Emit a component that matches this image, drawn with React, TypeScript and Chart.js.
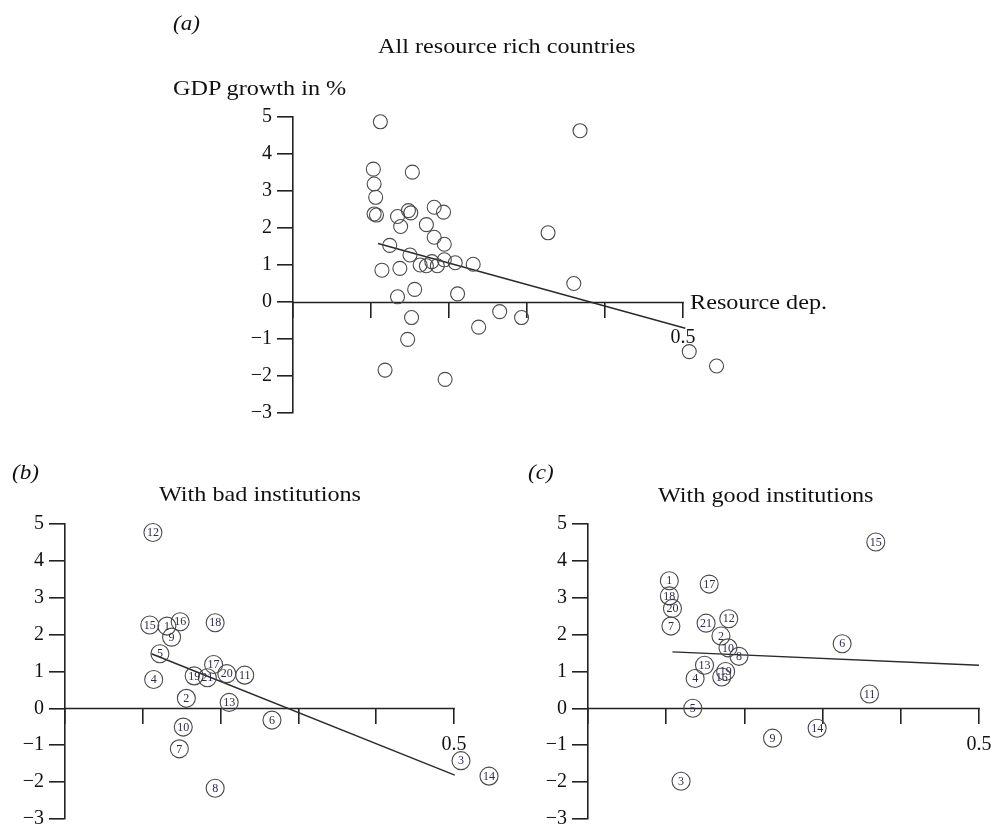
import React, { useEffect, useRef } from "react";
import { Chart, registerables } from "chart.js";

Chart.register(...registerables);

// ---------- DATA ----------
// Panel (a): all resource rich countries
const aX = [0.112, 0.368, 0.103, 0.153, 0.104, 0.106, 0.104, 0.107, 0.134, 0.148, 0.151, 0.181, 0.193, 0.138, 0.171, 0.181, 0.194, 0.124, 0.150, 0.163, 0.171, 0.178, 0.185, 0.194, 0.208, 0.231, 0.114, 0.137, 0.327, 0.360, 0.134, 0.156, 0.211, 0.152, 0.265, 0.293, 0.238, 0.147, 0.118, 0.195, 0.508, 0.543];
const aY = [4.87, 4.63, 3.59, 3.51, 3.19, 2.83, 2.38, 2.35, 2.31, 2.47, 2.41, 2.56, 2.43, 2.04, 2.09, 1.75, 1.56, 1.53, 1.27, 1.0, 0.98, 1.09, 0.98, 1.14, 1.06, 1.02, 0.86, 0.91, 1.87, 0.5, 0.14, 0.34, 0.22, -0.42, -0.26, -0.42, -0.68, -1.01, -1.84, -2.09, -1.34, -1.73];
const aLineX = [0.109, 0.503];
const aLineY = [1.58, -0.71];

// Panel (b): with bad institutions
const bLabels = ["12", "15", "1", "16", "9", "18", "5", "4", "19", "21", "17", "20", "11", "2", "13", "6", "10", "7", "8", "3", "14"];
const bX = [0.113, 0.109, 0.131, 0.148, 0.137, 0.193, 0.122, 0.114, 0.166, 0.183, 0.191, 0.208, 0.231, 0.156, 0.211, 0.266, 0.152, 0.147, 0.193, 0.509, 0.545];
const bY = [4.77, 2.26, 2.23, 2.35, 1.93, 2.32, 1.48, 0.78, 0.88, 0.83, 1.19, 0.94, 0.9, 0.27, 0.16, -0.32, -0.51, -1.1, -2.17, -1.42, -1.84];
const bLineX = [0.111, 0.501];
const bLineY = [1.48, -1.81];

// Panel (c): with good institutions
const cLabels = ["1", "18", "20", "7", "17", "21", "12", "2", "10", "8", "13", "4", "19", "16", "5", "6", "11", "9", "14", "3", "15"];
const cX = [0.104, 0.104, 0.108, 0.106, 0.155, 0.151, 0.180, 0.170, 0.179, 0.193, 0.149, 0.137, 0.176, 0.171, 0.134, 0.325, 0.360, 0.236, 0.293, 0.119, 0.368];
const cY = [3.46, 3.05, 2.71, 2.23, 3.37, 2.31, 2.43, 1.96, 1.64, 1.41, 1.17, 0.81, 1.0, 0.85, 0.0, 1.75, 0.39, -0.81, -0.54, -1.98, 4.51];
const cLineX = [0.108, 0.5];
const cLineY = [1.53, 1.17];

const xTicks = [0, 0.1, 0.2, 0.3, 0.4, 0.5];
const xShownLabel = "0.5";
const xAxisEnd = 0.5;
const yTicks = [-3, -2, -1, 0, 1, 2, 3, 4, 5];

// ---------- STYLE ----------
const FONT = '"Liberation Serif", "Times New Roman", serif';
const AXIS = "#222";
const W = 991;
const H = 829;

type Panel = {
  xs: number[];
  ys: number[];
  labels?: string[];
  lineX: number[];
  lineY: number[];
  axisPx: number;
  halfPx: number;
  topPx: number;
  bottomPx: number;
  xMax: number;
  radius: number;
};

const panels: Panel[] = [
  { xs: aX, ys: aY, lineX: aLineX, lineY: aLineY, axisPx: 293, halfPx: 683, topPx: 117, bottomPx: 413, xMax: 0.56, radius: 7 },
  { xs: bX, ys: bY, labels: bLabels, lineX: bLineX, lineY: bLineY, axisPx: 65, halfPx: 454, topPx: 524, bottomPx: 821, xMax: 0.56, radius: 9 },
  { xs: cX, ys: cY, labels: cLabels, lineX: cLineX, lineY: cLineY, axisPx: 588, halfPx: 979, topPx: 524, bottomPx: 821, xMax: 0.5, radius: 9 },
];

const Y_AXIS_W = 50;

function makeChart(canvas: HTMLCanvasElement, p: Panel) {
  const points = p.xs.map((x, i) => ({ x, y: p.ys[i] }));
  const line = p.lineX.map((x, i) => ({ x, y: p.lineY[i] }));
  const pxPerUnit = (p.halfPx - p.axisPx) / 0.5;
  const rightPx = p.axisPx + p.xMax * pxPerUnit;
  const padding = {
    left: p.axisPx - Y_AXIS_W,
    top: p.topPx,
    right: W - rightPx,
    bottom: H - p.bottomPx,
  };
  const helperPlugin = {
    id: "helpers",
    beforeDatasetsDraw(chart: any) {
      const xs = chart.scales.x;
      const ys = chart.scales.y;
      const ctx = chart.ctx;
      const y0 = Math.round(ys.getPixelForValue(0)) + 0.5;
      ctx.save();
      ctx.strokeStyle = AXIS;
      ctx.lineWidth = 1.6;
      ctx.beginPath();
      ctx.moveTo(xs.getPixelForValue(0), y0);
      ctx.lineTo(xs.getPixelForValue(xAxisEnd) + 0.8, y0);
      ctx.stroke();
      ctx.restore();
    },
    afterDatasetsDraw(chart: any) {
      if (!p.labels) return;
      const meta = chart.getDatasetMeta(0);
      const ctx = chart.ctx;
      ctx.save();
      ctx.font = `12px ${FONT}`;
      ctx.fillStyle = "#2b2b44";
      ctx.textAlign = "center";
      ctx.textBaseline = "middle";
      meta.data.forEach((pt: any, i: number) => {
        ctx.fillText(p.labels![i], pt.x, pt.y + 0.5);
      });
      ctx.restore();
    },
  };
  return new Chart(canvas, {
    type: "scatter",
    data: {
      datasets: [
        {
          data: points,
          pointRadius: p.radius,
          pointBorderColor: "#4a4a4a",
          pointBorderWidth: 1.1,
          pointBackgroundColor: "rgba(0,0,0,0)",
          showLine: false,
          clip: false as any,
        },
        {
          data: line,
          showLine: true,
          pointRadius: 0,
          borderColor: "#2a2a2a",
          borderWidth: 1.4,
          clip: false as any,
        },
      ],
    },
    options: {
      responsive: false,
      animation: false,
      events: [],
      layout: { padding },
      plugins: {
        legend: { display: false },
        tooltip: { enabled: false },
        title: { display: false },
      },
      scales: {
        x: {
          type: "linear",
          min: 0,
          max: p.xMax,
          position: { y: 0 } as any,
          afterBuildTicks: (s: any) => {
            s.ticks = xTicks.map((v) => ({ value: v }));
          },
          afterFit: (s: any) => {
            s.height = 0;
            s.paddingLeft = 0;
            s.paddingRight = 0;
          },
          border: { display: false },
          grid: { display: true, drawOnChartArea: false, drawTicks: true, tickLength: 16, color: AXIS, lineWidth: 1.6 },
          ticks: {
            autoSkip: false,
            maxRotation: 0,
            padding: 8,
            color: "#111",
            font: { family: FONT, size: 20 },
            callback: (v: any) => (Math.abs(Number(v) - 0.5) < 1e-9 ? xShownLabel : ""),
          },
        },
        y: {
          type: "linear",
          min: -3,
          max: 5,
          position: "left",
          afterBuildTicks: (s: any) => {
            s.ticks = yTicks.map((v) => ({ value: v }));
          },
          afterFit: (s: any) => {
            s.width = Y_AXIS_W;
            s.paddingTop = 0;
            s.paddingBottom = 0;
          },
          border: { display: true, color: AXIS, width: 1.6 },
          grid: { display: true, drawOnChartArea: false, drawTicks: true, tickLength: 16, color: AXIS, lineWidth: 1.6 },
          ticks: {
            autoSkip: false,
            padding: 5,
            color: "#111",
            font: { family: FONT, size: 20 },
            callback: (v: any) => (Number(v) < 0 ? "\u2212" + Math.abs(Number(v)) : String(v)),
          },
        },
      },
    },
    plugins: [helperPlugin],
  } as any);
}

function PanelCanvas({ panel }: { panel: Panel }) {
  const ref = useRef<HTMLCanvasElement | null>(null);
  useEffect(() => {
    if (!ref.current) return;
    const chart = makeChart(ref.current, panel);
    return () => chart.destroy();
  }, [panel]);
  return (
    <canvas
      ref={ref}
      width={W}
      height={H}
      style={{ position: "absolute", left: 0, top: 0, width: W, height: H }}
    />
  );
}

const textStyle = (left: number, cy: number, size = 22, italic = false): React.CSSProperties => ({
  position: "absolute",
  left,
  top: cy - size / 2,
  fontFamily: FONT,
  fontSize: size,
  lineHeight: `${size}px`,
  fontStyle: italic ? "italic" : "normal",
  color: "#111",
  whiteSpace: "nowrap",
  transform: "scaleX(1.1)",
  transformOrigin: "left center",
});

export default function App() {
  return (
    <div style={{ position: "fixed", left: 0, top: 0, width: W, height: H, background: "#fff", overflow: "hidden" }}>
      {panels.map((p, i) => (
        <PanelCanvas key={i} panel={p} />
      ))}
      <div style={textStyle(173, 23, 21, true)}>(a)</div>
      <div style={textStyle(378, 46, 22)}>All resource rich countries</div>
      <div style={textStyle(173, 88, 22)}>GDP growth in %</div>
      <div style={textStyle(690, 302, 22)}>Resource dep.</div>
      <div style={textStyle(12, 472, 21, true)}>(b)</div>
      <div style={textStyle(159, 494, 22)}>With bad institutions</div>
      <div style={textStyle(528, 472, 21, true)}>(c)</div>
      <div style={textStyle(658, 495, 22)}>With good institutions</div>
    </div>
  );
}
